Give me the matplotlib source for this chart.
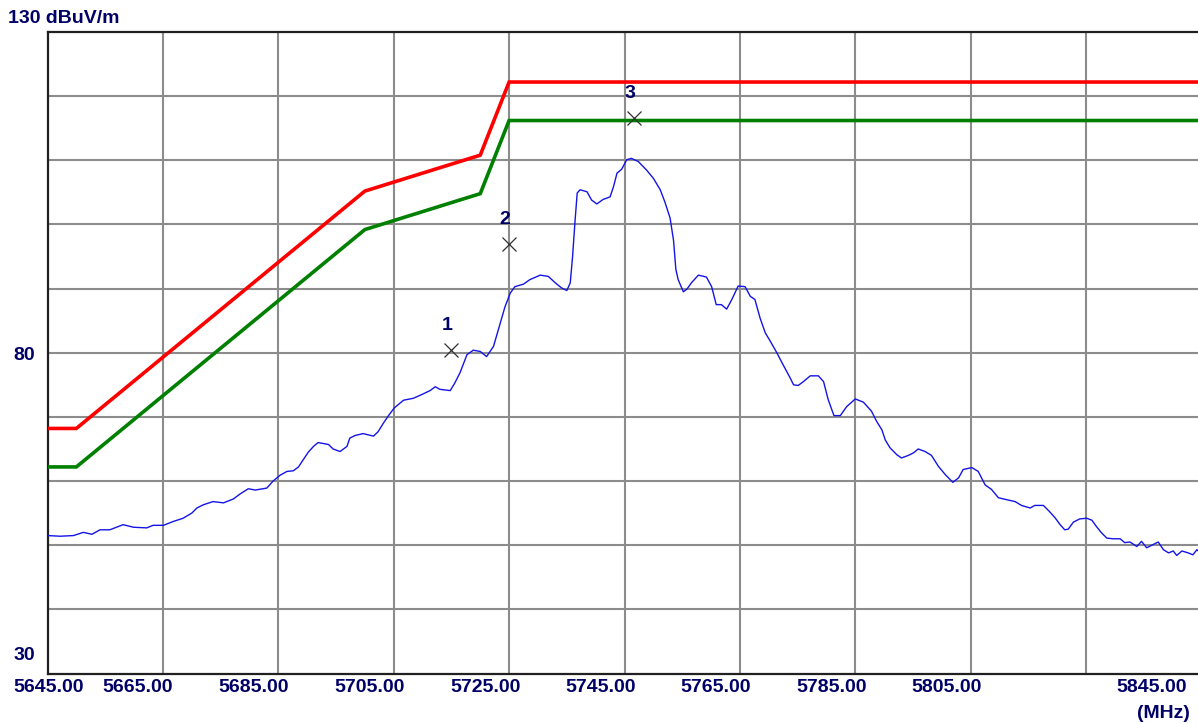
#!/usr/bin/env python3
"""Radiated emission scan 5645-5845 MHz with FCC band-edge limit lines."""

import matplotlib
matplotlib.use("Agg")
import matplotlib.pyplot as plt

# measured trace (MHz, dBuV/m)
freq = [
    5645.0, 5647.2, 5649.5, 5651.2, 5652.7, 5654.1, 5655.8, 5658.1, 5659.9, 5662.2,
    5663.3, 5665.1, 5666.8, 5668.5, 5670.0, 5670.9, 5672.0, 5673.7, 5675.5, 5677.2,
    5678.4, 5679.8, 5681.0, 5683.0, 5684.1, 5685.3, 5686.5, 5687.6, 5688.5, 5689.3,
    5690.2, 5691.1, 5691.9, 5693.7, 5694.5, 5695.7, 5696.9, 5697.4, 5698.3, 5699.7,
    5701.5, 5702.3, 5703.2, 5704.1, 5705.1, 5706.7, 5708.4, 5709.9, 5711.3, 5712.2,
    5713.0, 5714.8, 5715.6, 5716.5, 5717.7, 5718.8, 5720.0, 5721.1, 5722.3, 5723.4,
    5724.3, 5725.2, 5726.0, 5727.5, 5728.6, 5730.4, 5731.8, 5733.0, 5734.1, 5735.0,
    5735.6, 5736.0, 5736.4, 5736.8, 5737.3, 5738.5, 5739.3, 5740.2, 5741.3, 5742.5,
    5743.1, 5743.7, 5744.5, 5745.4, 5746.2, 5747.4, 5748.8, 5750.0, 5751.2, 5752.0,
    5752.9, 5753.5, 5753.9, 5754.3, 5755.2, 5755.8, 5756.6, 5757.8, 5759.2, 5760.1,
    5760.9, 5761.8, 5762.7, 5763.6, 5764.7, 5765.9, 5766.8, 5767.6, 5768.5, 5769.4,
    5770.2, 5771.4, 5772.5, 5773.7, 5774.3, 5775.1, 5776.0, 5777.2, 5778.6, 5779.5,
    5780.3, 5781.3, 5782.4, 5783.5, 5785.0, 5786.4, 5787.8, 5788.7, 5789.6, 5790.2,
    5791.0, 5792.2, 5793.0, 5794.2, 5795.1, 5795.9, 5797.1, 5798.2, 5799.4, 5800.6,
    5801.9, 5802.9, 5803.7, 5805.2, 5806.3, 5807.5, 5808.6, 5809.8, 5811.2, 5812.7,
    5813.8, 5815.3, 5816.1, 5817.6, 5818.6, 5819.6, 5820.5, 5821.3, 5821.9, 5822.8,
    5823.9, 5825.1, 5826.0, 5826.8, 5827.7, 5828.6, 5829.7, 5830.9, 5831.7, 5832.6,
    5833.8, 5834.6, 5835.5, 5836.6, 5837.5, 5838.4, 5839.3, 5840.1, 5840.7, 5841.6,
    5842.7, 5843.5, 5844.2, 5845.0,
]
level = [
    51.5, 51.4, 51.5, 52.0, 51.7, 52.4, 52.4, 53.2, 52.8, 52.7,
    53.1, 53.1, 53.7, 54.2, 55.0, 55.8, 56.3, 56.8, 56.6, 57.2,
    58.0, 58.8, 58.6, 58.9, 60.0, 60.9, 61.5, 61.6, 62.2, 63.3,
    64.5, 65.4, 66.0, 65.7, 65.0, 64.6, 65.4, 66.7, 67.1, 67.4,
    67.0, 67.7, 69.0, 70.2, 71.4, 72.6, 72.9, 73.5, 74.1, 74.7,
    74.3, 74.1, 75.3, 76.9, 79.7, 80.4, 80.2, 79.4, 81.0, 84.4,
    87.2, 89.3, 90.3, 90.7, 91.4, 92.1, 91.9, 90.9, 90.1, 89.7,
    90.9, 95.0, 100.2, 104.9, 105.4, 105.1, 103.8, 103.2, 103.9, 104.3,
    105.9, 108.0, 108.6, 110.1, 110.3, 109.8, 108.5, 107.2, 105.4, 103.5,
    101.0, 97.5, 93.0, 91.4, 89.5, 89.9, 90.9, 92.1, 91.8, 90.3,
    87.5, 87.5, 86.8, 88.3, 90.4, 90.3, 88.8, 88.3, 85.4, 83.1,
    81.9, 80.0, 78.1, 76.1, 75.0, 74.9, 75.5, 76.4, 76.4, 75.5,
    72.7, 70.2, 70.2, 71.6, 72.8, 72.3, 70.9, 69.3, 68.0, 66.4,
    65.2, 64.1, 63.6, 64.0, 64.4, 65.0, 64.6, 64.0, 62.3, 61.0,
    59.8, 60.5, 61.8, 62.1, 61.5, 59.4, 58.7, 57.4, 57.1, 56.8,
    56.2, 55.8, 56.2, 56.2, 55.3, 54.3, 53.2, 52.4, 52.5, 53.6,
    54.1, 54.2, 53.9, 52.9, 51.9, 51.1, 51.0, 51.0, 50.4, 50.5,
    49.8, 50.6, 49.6, 50.1, 50.5, 49.3, 48.8, 49.1, 48.4, 49.1,
    48.8, 48.5, 49.3, 48.6,
]

# limit lines
limit_freq = [5645, 5650, 5700, 5720, 5725, 5845]
limit_peak = [68.2, 68.2, 105.2, 110.8, 122.2, 122.2]
limit_avg = [62.2, 62.2, 99.2, 104.8, 116.2, 116.2]

# markers
marker_freq = [5714.9, 5725.0, 5746.6]
marker_level = [80.4, 97.0, 116.6]
marker_names = ["1", "2", "3"]

xtick_values = [5645, 5665, 5685, 5705, 5725, 5745, 5765, 5785, 5805, 5845]
xtick_labels = ["5645.00", "5665.00", "5685.00", "5705.00", "5725.00",
                "5745.00", "5765.00", "5785.00", "5805.00", "5845.00"]

NAVY = "#000066"
FONT = dict(family="Liberation Sans", weight="bold", size=14, color=NAVY)


def main() -> None:
    fig = plt.figure(figsize=(11.98, 7.24), dpi=100)
    ax = fig.add_axes([47.5 / 1198, 50.5 / 724, 1154 / 1198, 641.5 / 724])

    ax.set_xlim(5645, 5845)
    ax.set_ylim(30, 130)

    # grid
    for f in range(5665, 5845, 20):
        ax.axvline(f, color="#8c8c8c", lw=1.5, zorder=1)
    for lv in range(40, 130, 10):
        ax.axhline(lv, color="#8c8c8c", lw=1.5, zorder=1)

    ax.plot(limit_freq, limit_peak, color="#ff0000", lw=2.6, zorder=3,
            solid_joinstyle="miter")
    ax.plot(limit_freq, limit_avg, color="#008000", lw=2.6, zorder=3,
            solid_joinstyle="miter")
    ax.plot(freq, level, color="#1414e6", lw=1.0, zorder=4)

    ax.plot(marker_freq, marker_level, ls="none", marker="x", ms=9.5,
            mew=0.9, color="#303030", zorder=5)
    for f, lv, name in zip(marker_freq, marker_level, marker_names):
        ax.annotate(name, (f, lv), xytext=(-4, 20), textcoords="offset pixels",
                    ha="center", va="baseline", **FONT)

    for side in ["left", "bottom", "top", "right"]:
        ax.spines[side].set_linewidth(1.6)
        ax.spines[side].set_color("#202020")

    ax.set_xticks([])
    ax.set_yticks([])

    # x tick labels sit left of their grid lines, as in the analyser printout
    shifts = [1, -25, -25, -24, -24, -24, -24, -24, -24, -50]
    for f, lab, dx in zip(xtick_values, xtick_labels, shifts):
        ax.annotate(lab, (f, 0), xycoords=("data", "axes fraction"),
                    xytext=(dx, -19), textcoords="offset pixels",
                    ha="center", va="baseline", annotation_clip=False, **FONT)
    ax.annotate("(MHz)", (1, 0), xycoords="axes fraction", xytext=(-12, -45),
                textcoords="offset pixels", ha="right", va="baseline",
                annotation_clip=False, **FONT)

    ax.annotate("80", (0, 80), xycoords=("axes fraction", "data"),
                xytext=(-12, -3), textcoords="offset pixels",
                ha="right", va="center", annotation_clip=False, **FONT)
    ax.annotate("30", (0, 30), xycoords=("axes fraction", "data"),
                xytext=(-12, 18), textcoords="offset pixels",
                ha="right", va="center", annotation_clip=False, **FONT)
    fig.text(8 / 1198, 1 - 23 / 724, "130 dBuV/m", ha="left", va="baseline",
             **FONT)

    fig.savefig("out.png", dpi=100)
    plt.close(fig)


if __name__ == "__main__":
    main()
